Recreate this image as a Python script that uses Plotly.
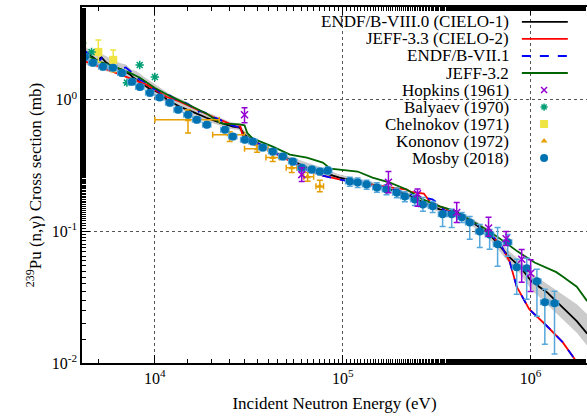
import plotly.graph_objects as go

# ---------------- data ----------------
# ENDF/B-VIII.0 (CIELO-1)
E_b8 = [4090, 4500, 4900, 5200, 5500, 6000, 6700, 7400, 7600, 8300, 9400, 10000, 10600, 11600, 13600,
        15900, 18800, 22200, 26000, 28300, 30000, 33200, 35000, 42400, 48000, 52300, 64400, 78300, 96000,
        119000, 144000, 178000, 219000, 267000, 328000, 404000, 491000, 605000, 684000, 773000, 873000,
        1010000, 1220000, 1480000, 1760000, 2000000]
xs_b8 = [2.35, 2.2, 2.0, 2.1, 1.92, 1.78, 1.69, 1.55, 1.49, 1.37, 1.21, 1.17, 1.12, 1.0, 0.885,
         0.81, 0.73, 0.67, 0.624, 0.614, 0.543, 0.49, 0.472, 0.404, 0.37, 0.351, 0.305, 0.28, 0.256,
         0.239, 0.227, 0.208, 0.191, 0.166, 0.147, 0.135, 0.117, 0.0949, 0.0769, 0.0635, 0.0543,
         0.0418, 0.0345, 0.0266, 0.0208, 0.0167]

# uncertainty band of ENDF/B-VIII.0
E_band = [4090, 4500, 5000, 5500, 6000, 6500, 7000, 7500, 8000, 9000, 10000, 11000, 12000, 14000, 16000,
          18000, 20000, 25000, 28000, 30000, 35000, 42000, 52000, 64000, 78000, 96000, 120000, 144000,
          178000, 219000, 267000, 328000, 404000, 491000, 605000, 684000, 773000, 873000, 1010000,
          1220000, 1480000, 1760000, 2000000]
band_lo = [1.9, 1.8, 1.75, 1.65, 1.6, 1.55, 1.5, 1.4, 1.35, 1.2, 1.05, 1.0, 0.93, 0.84, 0.74,
           0.70, 0.67, 0.6, 0.59, 0.52, 0.455, 0.39, 0.34, 0.295, 0.27, 0.248, 0.23, 0.218,
           0.2, 0.183, 0.158, 0.14, 0.127, 0.109, 0.087, 0.07, 0.057, 0.048, 0.036,
           0.028, 0.0215, 0.017, 0.0135]
band_hi = [2.6, 2.4, 2.3, 2.15, 2.0, 1.9, 1.85, 1.7, 1.65, 1.45, 1.32, 1.2, 1.1, 1.0, 0.9,
           0.82, 0.78, 0.68, 0.66, 0.58, 0.49, 0.42, 0.37, 0.335, 0.305, 0.27, 0.25, 0.237,
           0.217, 0.2, 0.175, 0.155, 0.143, 0.125, 0.103, 0.084, 0.07, 0.061, 0.048,
           0.040, 0.033, 0.028, 0.0235]

# JEFF-3.3 (CIELO-2)
E_j33 = [4090, 4110, 4510, 6000, 7360, 9070, 10000, 11600, 13600, 16700, 20300, 24200, 27300, 28500, 29400,
         35000, 42400, 52300, 64400, 78300, 96000, 119000, 144000, 178000, 219000, 230000, 270000, 290000,
         328000, 404000, 491000, 605000, 700000, 773000, 843000, 983000, 1220000, 1480000, 1760000, 1850000]
xs_j33 = [1.5, 1.97, 1.91, 1.63, 1.47, 1.30, 1.19, 1.05, 0.966, 0.84, 0.743, 0.67, 0.624, 0.63, 0.525,
          0.46, 0.40, 0.345, 0.295, 0.265, 0.248, 0.235, 0.227, 0.216, 0.208, 0.20, 0.194, 0.169,
          0.155, 0.139, 0.119, 0.098, 0.077, 0.059, 0.038, 0.0256, 0.0191, 0.0144, 0.0103, 0.0092]

# ENDF/B-VII.1
E_b7 = [4090, 4500, 5000, 5300, 5600, 6000, 6500, 7000, 7600, 8300, 9000, 9600, 10200, 11000, 12000,
        13000, 14000, 15000, 16000, 16500, 17500, 19000, 20000, 21500, 22500, 23500, 24500, 27000, 29000,
        30000, 35000, 42000, 52000, 64000, 78000, 96000, 119000, 144000, 178000, 214000, 258000, 300000,
        328000, 350000, 404000, 491000, 605000, 700000, 773000, 843000, 983000, 1220000, 1480000,
        1760000, 1850000]
xs_b7 = [2.45, 2.19, 1.94, 2.12, 1.87, 1.78, 1.72, 1.76, 1.60, 1.42, 1.35, 1.22, 1.20, 1.10, 1.08,
         1.0, 0.97, 0.93, 0.87, 0.80, 0.82, 0.79, 0.74, 0.72, 0.70, 0.66, 0.65, 0.63, 0.61,
         0.53, 0.47, 0.41, 0.345, 0.295, 0.265, 0.248, 0.235, 0.225, 0.21, 0.197, 0.184, 0.175,
         0.16, 0.142, 0.138, 0.119, 0.098, 0.077, 0.059, 0.038, 0.0256, 0.0191, 0.0144,
         0.0103, 0.0092]

# JEFF-3.2
E_j32 = [4090, 4400, 5100, 6000, 7360, 8320, 10000, 12000, 15000, 19000, 22200, 23000, 28300, 30000, 31000,
         33200, 42400, 52300, 64400, 78300, 86000, 96000, 120000, 144000, 178000, 219000, 267000, 328000,
         404000, 491000, 605000, 720000, 850000, 1050000, 1370000, 1480000, 1760000, 2000000]
xs_j32 = [2.3, 2.15, 1.94, 1.80, 1.60, 1.47, 1.23, 1.07, 0.92, 0.78, 0.67, 0.66, 0.65, 0.64, 0.56,
          0.507, 0.441, 0.383, 0.364, 0.333, 0.30, 0.295, 0.285, 0.256, 0.235, 0.208, 0.175, 0.155,
          0.142, 0.119, 0.1, 0.084, 0.0705, 0.058, 0.049, 0.0455, 0.038, 0.0295]

# Hopkins (1961)
E_hop = [30000, 60500, 175000, 250000, 404000, 597000, 740000, 896000, 1000000]
xs_hop = [0.77, 0.27, 0.236, 0.193, 0.139, 0.106, 0.088, 0.0614, 0.048]
hop_lo = [0.67, 0.239, 0.197, 0.155, 0.117, 0.092, 0.078, 0.041, 0.035]
hop_hi = [0.87, 0.305, 0.285, 0.21, 0.166, 0.128, 0.10, 0.073, 0.061]

# Balyaev (1970)
E_bal = [4100, 4600, 7100, 8300, 10000]
xs_bal = [2.70, 2.31, 1.35, 1.84, 1.49]

# Chelnokov (1971)
E_che = [4100, 5000, 6000]
xs_che = [2.6, 2.31, 2.01]
che_lo = [2.3, 1.94, 1.63]
che_hi = [3.0, 2.85, 2.39]

# Kononov (1972)
E_kon = [15000, 25000, 35000, 42400, 53500, 65000, 75500]
xs_kon = [0.705, 0.543, 0.425, 0.364, 0.305, 0.26, 0.22]
kon_lo = [0.56, 0.481, 0.40, 0.34, 0.28, 0.24, 0.20]
kon_hi = [0.84, 0.572, 0.45, 0.39, 0.33, 0.28, 0.245]
kon_Elo = [10000, 20300, 30000, 39000, 50000, 62000, 72000]
kon_Ehi = [22000, 30000, 40000, 46000, 57000, 70000, 79000]

# Mosby (2018)
E_mo = [4240, 4680, 5290, 5980, 6670, 7550, 8320, 9400, 10600, 12000, 13300, 15000, 16700, 18900, 23600,
        26000, 30100, 33200, 37500, 42400, 48000, 54200, 60500, 68400, 75500, 83200, 109000, 120000,
        134000, 152000, 171000, 194000, 214000, 242000, 267000, 301000, 340000, 380000, 430000, 474000,
        536000, 605000, 667000, 755000, 843000, 953000, 1080000, 1190000, 1340000]
xs_mo = [2.12, 1.91, 1.78, 1.75, 1.60, 1.37, 1.25, 1.13, 1.04, 0.949, 0.84, 0.77, 0.705, 0.647, 0.593,
         0.525, 0.498, 0.481, 0.433, 0.404, 0.370, 0.339, 0.305, 0.295, 0.285, 0.29, 0.239, 0.235,
         0.227, 0.216, 0.208, 0.197, 0.184, 0.175, 0.160, 0.155, 0.135, 0.135, 0.128, 0.117,
         0.100, 0.0949, 0.0797, 0.0826, 0.0533, 0.0525, 0.0418, 0.0290, 0.0285]
mo_lo = [2.0, 1.81, 1.69, 1.66, 1.52, 1.30, 1.19, 1.07, 0.99, 0.90, 0.80, 0.73, 0.67, 0.615, 0.563,
         0.50, 0.473, 0.457, 0.41, 0.383, 0.35, 0.32, 0.288, 0.278, 0.268, 0.272, 0.22, 0.216,
         0.209, 0.198, 0.19, 0.18, 0.168, 0.157, 0.142, 0.139, 0.109, 0.107, 0.117, 0.087,
         0.0756, 0.0731, 0.0543, 0.0647, 0.0333, 0.0305, 0.0227, 0.0139, 0.0117]
mo_hi = [2.24, 2.01, 1.87, 1.84, 1.68, 1.44, 1.31, 1.19, 1.09, 1.0, 0.88, 0.81, 0.74, 0.68, 0.623,
         0.55, 0.523, 0.505, 0.455, 0.425, 0.39, 0.358, 0.322, 0.312, 0.302, 0.308, 0.258, 0.254,
         0.245, 0.234, 0.226, 0.214, 0.2, 0.19, 0.181, 0.169, 0.142, 0.147, 0.139, 0.130,
         0.113, 0.1035, 0.107, 0.0949, 0.0614, 0.0624, 0.0516, 0.0364, 0.0351]

legend_labels = ["ENDF/B-VIII.0 (CIELO-1)", "JEFF-3.3 (CIELO-2)", "ENDF/B-VII.1", "JEFF-3.2",
                 "Hopkins (1961)", "Balyaev (1970)", "Chelnokov (1971)", "Kononov (1972)", "Mosby (2018)"]

x_tickvals = [1e4, 1e5, 1e6]
x_ticktext = ["10<sup>4</sup>", "10<sup>5</sup>", "10<sup>6</sup>"]
y_tickvals = [0.01, 0.1, 1]
y_ticktext = ["10<sup>-2</sup>", "10<sup>-1</sup>", "10<sup>0</sup>"]

# ---------------- styles ----------------
FONT = "Liberation Serif"
C_BLACK, C_RED, C_BLUE, C_GREEN = "#000000", "#ff0000", "#0000ff", "#006400"
C_HOP, C_BAL, C_CHE, C_KON, C_MO, C_MOERR = "#9400d3", "#009e73", "#f0e442", "#e69f00", "#0072b2", "#56a8dc"


def up(v, hi):
    return [h - c for c, h in zip(v, hi)]


def down(v, lo):
    return [c - l for c, l in zip(v, lo)]


fig = go.Figure()

# band
fig.add_trace(go.Scatter(x=E_band, y=band_lo, mode="lines", line=dict(width=0), showlegend=False, hoverinfo="skip"))
fig.add_trace(go.Scatter(x=E_band, y=band_hi, mode="lines", line=dict(width=0), fill="tonexty",
                         fillcolor="#cbcbcb", showlegend=False, hoverinfo="skip"))

line_specs = [
    (E_b8, xs_b8, C_BLACK, "solid"),
    (E_j33, xs_j33, C_RED, "solid"),
    (E_b7, xs_b7, C_BLUE, "dash"),
    (E_j32, xs_j32, C_GREEN, "solid"),
]
for xx, yy, col, dash in line_specs:
    fig.add_trace(go.Scatter(x=xx, y=yy, mode="lines", line=dict(color=col, width=1.8, dash=dash),
                             showlegend=False))

# experiments
fig.add_trace(go.Scatter(x=E_kon, y=xs_kon, mode="markers",
                         marker=dict(symbol="triangle-up", size=6, color=C_KON),
                         error_y=dict(type="data", symmetric=False, array=up(xs_kon, kon_hi),
                                      arrayminus=down(xs_kon, kon_lo), color=C_KON, thickness=1.5, width=3),
                         error_x=dict(type="data", symmetric=False, array=up(E_kon, kon_Ehi),
                                      arrayminus=down(E_kon, kon_Elo), color=C_KON, thickness=1.5, width=3),
                         showlegend=False))
fig.add_trace(go.Scatter(x=E_che, y=xs_che, mode="markers",
                         marker=dict(symbol="square", size=8, color=C_CHE),
                         error_y=dict(type="data", symmetric=False, array=up(xs_che, che_hi),
                                      arrayminus=down(xs_che, che_lo), color=C_CHE, thickness=1.5, width=3),
                         showlegend=False))
fig.add_trace(go.Scatter(x=E_bal, y=xs_bal, mode="markers",
                         marker=dict(symbol="asterisk-open", size=7, color=C_BAL, line=dict(color=C_BAL, width=1.5)),
                         showlegend=False))
fig.add_trace(go.Scatter(x=E_mo, y=xs_mo, mode="markers",
                         marker=dict(symbol="circle", size=8, color=C_MO),
                         error_y=dict(type="data", symmetric=False, array=up(xs_mo, mo_hi),
                                      arrayminus=down(xs_mo, mo_lo), color=C_MOERR, thickness=1.5, width=3),
                         error_x=dict(type="percent", value=5, color=C_MOERR, thickness=1.5, width=3),
                         showlegend=False))
fig.add_trace(go.Scatter(x=E_hop, y=xs_hop, mode="markers",
                         marker=dict(symbol="x-thin-open", size=7, color=C_HOP, line=dict(color=C_HOP, width=1.5)),
                         error_y=dict(type="data", symmetric=False, array=up(xs_hop, hop_hi),
                                      arrayminus=down(xs_hop, hop_lo), color=C_HOP, thickness=1.5, width=3),
                         showlegend=False))

# ---------------- custom legend (text left, sample right, gnuplot style) ----------------
row0, drow = 0.958, 0.0478
text_x, samp_x0, samp_x1, mark_x = 0.8475, 0.871, 0.962, 0.915
line_keys = [(C_BLACK, "solid"), (C_RED, "solid"), (C_BLUE, "dash"), (C_GREEN, "solid")]
mark_keys = [
    dict(symbol="x-thin-open", size=6, color=C_HOP, line=dict(color=C_HOP, width=1.5)),
    dict(symbol="asterisk-open", size=6, color=C_BAL, line=dict(color=C_BAL, width=1.5)),
    dict(symbol="square", size=8, color=C_CHE),
    dict(symbol="triangle-up", size=6, color=C_KON),
    dict(symbol="circle", size=8, color=C_MO),
]
for i, lab in enumerate(legend_labels):
    yy = row0 - i * drow
    fig.add_annotation(x=text_x, y=yy, xref="paper", yref="paper", text=lab, showarrow=False,
                       xanchor="right", yanchor="middle", borderpad=0,
                       font=dict(family=FONT, size=17, color="black"))
    if i < len(line_keys):
        col, dash = line_keys[i]
        fig.add_trace(go.Scatter(x=[samp_x0, samp_x1], y=[yy, yy], mode="lines", xaxis="x2", yaxis="y2",
                                 line=dict(color=col, width=1.8, dash=dash), showlegend=False, hoverinfo="skip"))
    else:
        fig.add_trace(go.Scatter(x=[mark_x], y=[yy], mode="markers", xaxis="x2", yaxis="y2",
                                 marker=mark_keys[i - len(line_keys)], showlegend=False, hoverinfo="skip"))

# opaque key box (covers grid only)
fig.add_shape(type="rect", xref="paper", yref="paper", x0=0.38, x1=0.98, y0=0.548, y1=0.983,
              fillcolor="white", line=dict(width=0), layer="between")

axis_common = dict(
    type="log", showline=True, linecolor="black", linewidth=1.5, ticks="inside", ticklen=8,
    tickwidth=1, tickcolor="black", showgrid=True, automargin=False,
    gridcolor="#555555", griddash="dot", gridwidth=1, zeroline=False,
    minor=dict(ticks="inside", ticklen=4, tickcolor="black", tickwidth=1, showgrid=False),
    tickfont=dict(family=FONT, size=16, color="black"),
)

fig.update_layout(
    width=587, height=417,
    margin=dict(l=82, r=0, t=7, b=54),
    paper_bgcolor="white", plot_bgcolor="white",
    font=dict(family=FONT, size=16, color="black"),
    showlegend=False,
    xaxis=dict(axis_common, range=[3.612, 6.30], mirror="ticks",
               tickmode="array", tickvals=x_tickvals, ticktext=x_ticktext,
               title=dict(text="Incident Neutron Energy (eV)", font=dict(family=FONT, size=17), standoff=11)),
    yaxis=dict(axis_common, range=[-2, 0.705], mirror=False,
               tickmode="array", tickvals=y_tickvals, ticktext=y_ticktext,
               title=dict(text="<sup>239</sup>Pu (n,γ) Cross section (mb)", font=dict(family=FONT, size=17),
                          standoff=6)),
    xaxis2=dict(overlaying="x", range=[0, 1], visible=False, showgrid=False),
    yaxis2=dict(overlaying="y", range=[0, 1], visible=False, showgrid=False),
)

fig.write_html("out.html", config={"displayModeBar": False},
               post_script="document.body.style.margin='0px';document.body.style.overflow='hidden';")
